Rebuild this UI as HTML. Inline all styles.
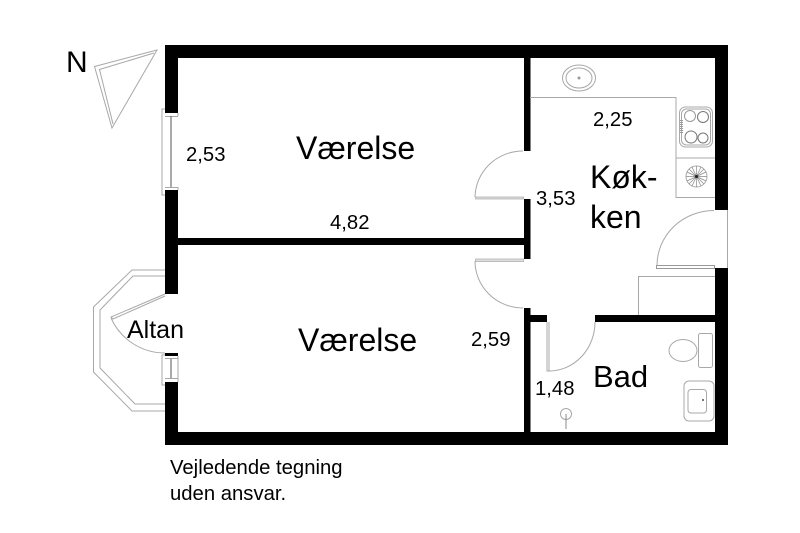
<!DOCTYPE html>
<html>
<head>
<meta charset="utf-8">
<style>
html,body{margin:0;padding:0;background:#fff;}
svg{display:block;}
text{font-family:"Liberation Sans",Arial,sans-serif;fill:#000;}
.t{font-size:20.300px;}
.l{font-size:32px;}
.g{fill:none;stroke:#a8a8a8;stroke-width:1;}
.d{fill:none;stroke:#666;stroke-width:1;}
</style>
</head>
<body>
<svg width="800" height="533" viewBox="0 0 800 533" xmlns="http://www.w3.org/2000/svg">
<rect width="800" height="533" fill="#fff"/>

<!-- balcony -->
<polyline class="g" points="165,270 132,270 93.5,307 93.5,372 132,411 165,411"/>
<polyline class="g" points="165,276 133,276 100,310 100,368 135,404 165,404"/>
<polyline class="g" points="165,294 111,317 113,319 165,296"/>
<path class="g" d="M111,318 A59,59 0 0 0 165,353"/>

<!-- windows -->
<path class="g" d="M166,109 H162 V195 H166"/>
<path class="g" d="M165,116.500 H178 M165,187.500 H178 M178,113 V116 M178,187 V190"/>
<path d="M171,116 V187" stroke="#555" stroke-width="1"/>
<path class="g" d="M166,355 H162 V385 H166"/>
<path class="g" d="M165,358.500 H178 M165,378.500 H178 M178,356 V382"/>
<path d="M171,359 V378" stroke="#555" stroke-width="1"/>

<!-- outer walls -->
<g fill="#000">
<rect x="165" y="45" width="563" height="13"/>
<rect x="165" y="432" width="563" height="13"/>
<rect x="165" y="45" width="13" height="68"/>
<rect x="165" y="190" width="13" height="104"/>
<rect x="165" y="353" width="13" height="3"/>
<rect x="165" y="382" width="13" height="63"/>
<rect x="715" y="45" width="13" height="165"/>
<rect x="715" y="268" width="13" height="177"/>
<!-- inner walls -->
<rect x="178" y="238" width="352" height="7"/>
<rect x="524" y="58" width="6.500" height="93"/>
<rect x="524" y="199" width="6.500" height="60"/>
<rect x="524" y="308" width="6.500" height="124"/>
<rect x="530" y="315" width="17" height="7"/>
<rect x="595" y="315" width="120" height="7"/>
</g>

<!-- doors -->
<path class="g" d="M523,151 A48,47 0 0 0 475,197"/>
<rect x="475.500" y="197" width="48" height="2" fill="#ddd" stroke="#aaa" stroke-width="0.7"/>
<path class="g" d="M475,261 A48,47 0 0 0 523,308"/>
<rect x="475.500" y="259" width="48" height="2.500" fill="#ddd" stroke="#aaa" stroke-width="0.7"/>
<path class="g" d="M714,210.500 A57,55 0 0 0 657,265.500"/>
<rect x="656.500" y="265.500" width="58" height="3" fill="#fff" stroke="#999" stroke-width="1"/>
<path class="g" d="M727.500,210 V268"/>
<path class="g" d="M595,322 A46,49 0 0 1 549,371 H547 V322 M549,322 V371"/>

<!-- kitchen fixtures -->
<path class="g" d="M530,97.500 H676 V197.500 H715 M676,158 H715"/>
<ellipse class="g" cx="579" cy="78" rx="16.500" ry="13"/>
<ellipse class="g" cx="579" cy="78" rx="13" ry="10"/>
<circle cx="579" cy="78" r="1.500" fill="#999"/>
<rect class="g" x="679.500" y="107" width="33" height="40" rx="6"/>
<rect class="g" x="681.500" y="109" width="29" height="36" rx="5"/>
<circle class="d" cx="690" cy="116" r="5.500" style="stroke:#999"/>
<circle class="d" cx="703" cy="117" r="5.500" style="stroke:#777"/>
<circle class="d" cx="691" cy="137" r="6" style="stroke:#777"/>
<circle class="d" cx="703" cy="138" r="5" style="stroke:#777"/>
<path d="M681.500,120 V134" stroke="#999" stroke-width="3" stroke-dasharray="1 1" fill="none"/>
<circle class="g" cx="696.500" cy="176.500" r="10.500"/>
<path d="M696.500,166 V187 M686,176.500 H707 M689,169 L704,184 M704,169 L689,184 M692,167 L701,186 M701,167 L692,186 M687,172 L706,181 M687,181 L706,172" stroke="#888" stroke-width="0.7"/>
<circle cx="696.500" cy="176.500" r="1.500" fill="#222"/>
<path class="g" d="M715,276.500 H638.500 V315"/>

<!-- bath fixtures -->
<ellipse class="g" cx="683" cy="350.500" rx="14" ry="11"/>
<rect class="g" x="698.500" y="333.500" width="14" height="34" rx="2"/>
<rect class="g" x="684" y="381" width="30" height="40" rx="5"/>
<rect class="g" x="688" y="389.500" width="18.500" height="23.500" rx="3"/>
<rect x="702" y="399" width="2" height="2" fill="#777"/>
<circle class="g" cx="566" cy="414" r="5.500"/>
<path d="M566,414 V429" stroke="#888" stroke-width="1"/>

<!-- north arrow -->
<polygon class="g" points="157,50 94.500,66.500 112,128"/>
<polyline class="g" points="154,53 99.500,69.500 113,124"/>

<!-- labels -->
<text x="66" y="72" style="font-size:30px">N</text>
<text x="186" y="161" class="t">2,53</text>
<text x="296" y="159" class="l">Værelse</text>
<text x="298" y="351" class="l">Værelse</text>
<text x="330" y="229" class="t">4,82</text>
<text x="593" y="126" class="t">2,25</text>
<text x="536" y="205" class="t">3,53</text>
<text x="471" y="346" class="t">2,59</text>
<text x="535" y="395" class="t">1,48</text>
<text x="590" y="188" class="l">Køk-</text>
<text x="590" y="228" class="l">ken</text>
<text x="593" y="387" style="font-size:31px">Bad</text>
<text x="127" y="338" style="font-size:25px">Altan</text>
<text x="170" y="474" style="font-size:20.300px">Vejledende tegning</text>
<text x="170" y="500" style="font-size:20.300px">uden ansvar.</text>
</svg>
</body>
</html>
